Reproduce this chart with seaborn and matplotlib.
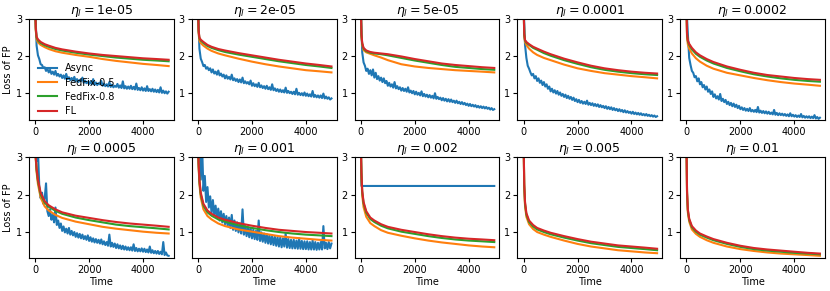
import numpy as np
import pandas as pd
import seaborn as sns
import matplotlib.pyplot as plt

# learning rates, one panel each
lrs = ['1e-05', '2e-05', '5e-05', '0.0001', '0.0002',
       '0.0005', '0.001', '0.002', '0.005', '0.01']
methods = ['Async', 'FedFix-0.5', 'FedFix-0.8', 'FL']
colors = {'Async': '#1f77b4', 'FedFix-0.5': '#ff7f0e',
          'FedFix-0.8': '#2ca02c', 'FL': '#d62728'}

# time points for the smooth curves and for the noisy Async curves
time_smooth = [0, 20, 50, 100, 200, 350, 500, 750, 1000, 1500,
               2000, 2500, 3000, 3500, 4000, 4500, 4950]
time_async = list(range(0, 4951, 50))

# Async loss, None = not shown
async_loss = {
    '1e-05': [3.3, 2.28, 2.02, 1.92, 1.78, 1.76, 1.68, 1.7, 1.6, 1.66,
              1.56, 1.63, 1.52, 1.58, 1.5, 1.6, 1.47, 1.52, 1.45, 1.5,
              1.41, 1.48, 1.39, 1.52, 1.38, 1.43, 1.35, 1.41, 1.34, 1.44,
              1.32, 1.38, 1.3, 1.36, 1.33, 1.42, 1.28, 1.34, 1.27, 1.31,
              1.25, 1.32, 1.24, 1.38, 1.23, 1.29, 1.22, 1.27, 1.24, 1.33,
              1.2, 1.26, 1.19, 1.24, 1.18, 1.3, 1.17, 1.23, 1.16, 1.2,
              1.17, 1.25, 1.15, 1.21, 1.14, 1.32, 1.13, 1.19, 1.12, 1.18,
              1.12, 1.2, 1.11, 1.17, 1.1, 1.26, 1.09, 1.14, 1.08, 1.16,
              1.07, 1.13, 1.06, 1.19, 1.06, 1.11, 1.05, 1.12, 1.04, 1.1,
              1.03, 1.09, 1.02, 1.16, 1.01, 1.07, 1.0, 1.05, 0.99, 1.04],
    '2e-05': [3.3, 2.2, 1.93, 1.84, 1.73, 1.76, 1.66, 1.7, 1.62, 1.67,
              1.56, 1.64, 1.53, 1.58, 1.5, 1.61, 1.48, 1.53, 1.45, 1.5,
              1.4, 1.48, 1.39, 1.44, 1.37, 1.5, 1.35, 1.4, 1.33, 1.38,
              1.3, 1.37, 1.29, 1.42, 1.27, 1.32, 1.26, 1.3, 1.24, 1.34,
              1.2, 1.27, 1.19, 1.24, 1.17, 1.28, 1.16, 1.21, 1.14, 1.19,
              1.12, 1.2, 1.11, 1.16, 1.09, 1.24, 1.08, 1.13, 1.06, 1.11,
              1.04, 1.1, 1.03, 1.08, 1.02, 1.15, 1.01, 1.06, 1.0, 1.04,
              0.98, 1.04, 0.97, 1.12, 0.96, 1.01, 0.95, 1.0, 0.94, 1.02,
              0.93, 0.99, 0.92, 0.97, 0.91, 1.06, 0.9, 0.95, 0.89, 0.94,
              0.88, 0.94, 0.87, 0.99, 0.86, 0.91, 0.85, 0.89, 0.83, 0.86],
    '5e-05': [3.3, 2.1, 1.83, 1.74, 1.6, 1.66, 1.52, 1.62, 1.48, 1.64,
              1.42, 1.55, 1.38, 1.46, 1.34, 1.42, 1.3, 1.4, 1.27, 1.33,
              1.2, 1.28, 1.18, 1.24, 1.15, 1.3, 1.13, 1.19, 1.11, 1.16,
              1.07, 1.14, 1.06, 1.12, 1.04, 1.16, 1.02, 1.07, 1.0, 1.06,
              0.97, 1.04, 0.96, 1.01, 0.94, 1.05, 0.92, 0.98, 0.91, 0.96,
              0.89, 0.95, 0.88, 0.93, 0.86, 1.0, 0.85, 0.9, 0.84, 0.88,
              0.81, 0.87, 0.8, 0.85, 0.78, 0.84, 0.77, 0.83, 0.76, 0.8,
              0.74, 0.8, 0.73, 0.77, 0.71, 0.76, 0.7, 0.74, 0.68, 0.72,
              0.66, 0.71, 0.65, 0.69, 0.64, 0.68, 0.62, 0.66, 0.61, 0.65,
              0.6, 0.64, 0.59, 0.63, 0.58, 0.61, 0.56, 0.6, 0.55, 0.57],
    '0.0001': [3.3, 2.3, 1.95, 1.74, 1.66, 1.56, 1.48, 1.52, 1.4, 1.46,
               1.33, 1.4, 1.28, 1.34, 1.22, 1.3, 1.18, 1.24, 1.12, 1.18,
               1.05, 1.12, 1.02, 1.08, 0.99, 1.06, 0.96, 1.02, 0.93, 0.98,
               0.9, 0.96, 0.87, 0.93, 0.85, 0.9, 0.82, 0.88, 0.79, 0.84,
               0.76, 0.82, 0.74, 0.79, 0.72, 0.77, 0.71, 0.8, 0.69, 0.74,
               0.68, 0.73, 0.66, 0.71, 0.65, 0.7, 0.63, 0.68, 0.62, 0.66,
               0.6, 0.65, 0.58, 0.63, 0.57, 0.62, 0.55, 0.6, 0.54, 0.58,
               0.52, 0.57, 0.51, 0.55, 0.49, 0.54, 0.48, 0.52, 0.47, 0.5,
               0.45, 0.5, 0.44, 0.48, 0.43, 0.47, 0.42, 0.46, 0.41, 0.44,
               0.4, 0.44, 0.39, 0.42, 0.38, 0.41, 0.37, 0.4, 0.36, 0.38],
    '0.0002': [3.3, 2.6, 1.95, 1.76, 1.6, 1.55, 1.43, 1.46, 1.32, 1.4,
               1.24, 1.3, 1.16, 1.22, 1.1, 1.18, 1.04, 1.1, 0.98, 1.05,
               0.9, 0.97, 0.86, 0.92, 0.83, 0.98, 0.79, 0.85, 0.76, 0.82,
               0.71, 0.77, 0.68, 0.74, 0.65, 0.72, 0.63, 0.69, 0.6, 0.66,
               0.57, 0.62, 0.55, 0.6, 0.53, 0.58, 0.52, 0.6, 0.51, 0.55,
               0.5, 0.55, 0.49, 0.63, 0.48, 0.53, 0.47, 0.52, 0.46, 0.51,
               0.45, 0.5, 0.44, 0.48, 0.43, 0.55, 0.42, 0.47, 0.41, 0.46,
               0.41, 0.45, 0.4, 0.44, 0.39, 0.43, 0.38, 0.46, 0.38, 0.42,
               0.37, 0.41, 0.36, 0.4, 0.36, 0.44, 0.35, 0.39, 0.34, 0.38,
               0.34, 0.38, 0.33, 0.37, 0.33, 0.41, 0.32, 0.36, 0.31, 0.34],
    '0.0005': [3.3, 2.9, 3.2, 2.2, 1.9, 2.05, 1.75, 1.9, 2.3, 1.55,
               1.42, 1.6, 1.32, 1.45, 1.25, 1.65, 1.18, 1.3, 1.1, 1.22,
               1.02, 1.14, 0.98, 1.08, 0.95, 1.1, 0.92, 1.02, 0.9, 0.99,
               0.86, 0.96, 0.84, 0.94, 0.82, 0.92, 0.8, 0.88, 0.78, 0.9,
               0.75, 0.85, 0.73, 0.82, 0.71, 0.8, 0.7, 0.78, 0.68, 0.79,
               0.66, 0.74, 0.64, 0.72, 0.62, 0.92, 0.6, 0.7, 0.59, 0.68,
               0.56, 0.66, 0.55, 0.63, 0.53, 0.62, 0.52, 0.6, 0.51, 0.58,
               0.5, 0.58, 0.49, 0.66, 0.48, 0.56, 0.47, 0.54, 0.47, 0.55,
               0.46, 0.54, 0.45, 0.52, 0.44, 0.6, 0.43, 0.5, 0.42, 0.48,
               0.41, 0.48, 0.4, 0.46, 0.39, 0.72, 0.37, 0.44, 0.36, 0.35],
    '0.001': [3.3, 3.4, 2.4, 3.3, 2.1, 2.5, 1.8, 2.2, 1.65, 1.95,
              1.5, 1.85, 1.45, 1.7, 1.38, 1.62, 1.3, 1.55, 1.25, 1.48,
              1.2, 1.42, 1.15, 1.38, 1.1, 1.45, 1.05, 1.3, 1.02, 1.25,
              0.98, 1.22, 0.95, 1.6, 0.92, 1.15, 0.88, 1.12, 0.85, 1.1,
              0.82, 1.05, 0.8, 1.02, 0.78, 1.3, 0.75, 0.98, 0.73, 0.95,
              0.7, 0.93, 0.68, 0.9, 0.66, 0.88, 0.64, 0.86, 0.62, 0.85,
              0.6, 0.84, 0.58, 0.82, 0.6, 0.95, 0.57, 0.8, 0.56, 0.78,
              0.55, 0.78, 0.55, 0.76, 0.54, 0.82, 0.54, 0.75, 0.53, 0.74,
              0.53, 0.74, 0.52, 0.72, 0.52, 0.76, 0.52, 0.72, 0.51, 0.7,
              0.52, 0.72, 0.52, 1.15, 0.55, 0.7, 0.53, 0.72, 0.55, 0.68],
    # this one is flat, on the smooth time grid
    '0.002': [3.3, 2.23, 2.23, 2.23, 2.23, 2.23, 2.23, 2.23, 2.23, 2.23,
              2.23, 2.23, 2.23, 2.23, 2.23, 2.23, 2.23],
    '0.005': None,
    '0.01': None,
}

fedfix05_loss = {
    '1e-05': [3.3, 2.68, 2.45, 2.37, 2.3, 2.24, 2.19, 2.13, 2.09, 2.03, 1.98, 1.92, 1.87, 1.83, 1.79, 1.76, 1.73],
    '2e-05': [3.3, 2.62, 2.42, 2.35, 2.28, 2.2, 2.14, 2.07, 2.02, 1.93, 1.85, 1.78, 1.72, 1.67, 1.62, 1.59, 1.56],
    '5e-05': [3.3, 2.55, 2.3, 2.16, 2.1, 2.06, 2.02, 1.96, 1.89, 1.78, 1.72, 1.68, 1.65, 1.62, 1.6, 1.58, 1.56],
    '0.0001': [3.3, 2.55, 2.38, 2.3, 2.2, 2.1, 2.03, 1.95, 1.89, 1.77, 1.67, 1.6, 1.54, 1.5, 1.46, 1.43, 1.4],
    '0.0002': [3.3, 2.5, 2.32, 2.2, 2.07, 1.94, 1.85, 1.74, 1.66, 1.55, 1.48, 1.41, 1.35, 1.3, 1.26, 1.23, 1.2],
    '0.0005': [3.3, 2.95, 2.6, 2.28, 1.92, 1.68, 1.57, 1.45, 1.37, 1.27, 1.2, 1.13, 1.08, 1.04, 1.0, 0.97, 0.95],
    '0.001': [3.3, 2.75, 2.28, 1.92, 1.6, 1.42, 1.33, 1.22, 1.15, 1.06, 1.0, 0.94, 0.88, 0.84, 0.81, 0.78, 0.76],
    '0.002': [3.3, 2.5, 1.98, 1.66, 1.4, 1.23, 1.15, 1.04, 0.97, 0.89, 0.82, 0.76, 0.71, 0.67, 0.63, 0.6, 0.58],
    '0.005': [3.3, 2.2, 1.7, 1.4, 1.2, 1.07, 0.99, 0.92, 0.86, 0.76, 0.67, 0.6, 0.55, 0.5, 0.47, 0.44, 0.42],
    '0.01': [3.3, 2.0, 1.52, 1.27, 1.06, 0.94, 0.86, 0.77, 0.7, 0.6, 0.53, 0.48, 0.44, 0.41, 0.39, 0.37, 0.35],
}

fedfix08_loss = {
    '1e-05': [3.3, 2.72, 2.5, 2.42, 2.35, 2.29, 2.25, 2.19, 2.15, 2.09, 2.04, 2.0, 1.96, 1.93, 1.9, 1.88, 1.86],
    '2e-05': [3.3, 2.68, 2.48, 2.42, 2.35, 2.27, 2.22, 2.16, 2.11, 2.04, 1.98, 1.92, 1.86, 1.81, 1.76, 1.72, 1.68],
    '5e-05': [3.3, 2.58, 2.33, 2.2, 2.13, 2.09, 2.07, 2.05, 2.02, 1.95, 1.88, 1.82, 1.76, 1.71, 1.68, 1.65, 1.63],
    '0.0001': [3.3, 2.58, 2.42, 2.36, 2.3, 2.22, 2.17, 2.08, 2.01, 1.89, 1.79, 1.7, 1.63, 1.58, 1.54, 1.51, 1.49],
    '0.0002': [3.3, 2.58, 2.4, 2.3, 2.18, 2.06, 1.98, 1.88, 1.8, 1.68, 1.59, 1.51, 1.45, 1.4, 1.36, 1.33, 1.31],
    '0.0005': [3.3, 2.98, 2.66, 2.36, 2.0, 1.78, 1.67, 1.56, 1.48, 1.38, 1.31, 1.25, 1.19, 1.15, 1.12, 1.09, 1.06],
    '0.001': [3.3, 2.8, 2.35, 2.0, 1.7, 1.52, 1.43, 1.33, 1.27, 1.17, 1.1, 1.04, 0.99, 0.95, 0.92, 0.9, 0.88],
    '0.002': [3.3, 2.58, 2.07, 1.76, 1.51, 1.34, 1.26, 1.16, 1.09, 1.0, 0.94, 0.88, 0.83, 0.79, 0.76, 0.74, 0.72],
    '0.005': [3.3, 2.25, 1.75, 1.46, 1.26, 1.14, 1.06, 0.99, 0.93, 0.84, 0.76, 0.69, 0.64, 0.59, 0.56, 0.53, 0.5],
    '0.01': [3.3, 2.05, 1.57, 1.32, 1.12, 1.0, 0.92, 0.84, 0.77, 0.67, 0.59, 0.53, 0.49, 0.46, 0.43, 0.41, 0.39],
}

fl_loss = {
    '1e-05': [3.3, 2.75, 2.52, 2.45, 2.38, 2.32, 2.28, 2.22, 2.18, 2.12, 2.07, 2.03, 2.0, 1.97, 1.94, 1.92, 1.9],
    '2e-05': [3.3, 2.7, 2.5, 2.44, 2.38, 2.3, 2.25, 2.19, 2.15, 2.08, 2.02, 1.96, 1.9, 1.85, 1.8, 1.76, 1.72],
    '5e-05': [3.3, 2.6, 2.35, 2.22, 2.15, 2.11, 2.09, 2.07, 2.05, 1.99, 1.92, 1.86, 1.8, 1.76, 1.73, 1.7, 1.68],
    '0.0001': [3.3, 2.6, 2.43, 2.38, 2.32, 2.25, 2.2, 2.12, 2.05, 1.93, 1.83, 1.74, 1.67, 1.62, 1.58, 1.55, 1.53],
    '0.0002': [3.3, 2.6, 2.42, 2.33, 2.22, 2.1, 2.02, 1.92, 1.84, 1.72, 1.63, 1.55, 1.49, 1.45, 1.41, 1.38, 1.36],
    '0.0005': [3.3, 3.0, 2.7, 2.4, 2.05, 1.82, 1.71, 1.6, 1.52, 1.43, 1.37, 1.31, 1.26, 1.22, 1.19, 1.16, 1.13],
    '0.001': [3.3, 2.85, 2.4, 2.05, 1.75, 1.57, 1.48, 1.38, 1.32, 1.23, 1.16, 1.1, 1.05, 1.02, 0.99, 0.97, 0.95],
    '0.002': [3.3, 2.6, 2.1, 1.8, 1.55, 1.38, 1.3, 1.2, 1.13, 1.05, 0.99, 0.93, 0.88, 0.84, 0.81, 0.79, 0.77],
    '0.005': [3.3, 2.3, 1.8, 1.5, 1.3, 1.18, 1.1, 1.03, 0.97, 0.88, 0.8, 0.73, 0.68, 0.63, 0.6, 0.57, 0.54],
    '0.01': [3.3, 2.1, 1.6, 1.35, 1.15, 1.03, 0.95, 0.87, 0.8, 0.7, 0.62, 0.56, 0.52, 0.49, 0.46, 0.43, 0.41],
}


def panel_frame(lr):
    parts = []
    a = async_loss[lr]
    if a is not None:
        t = time_async if len(a) == len(time_async) else time_smooth
        parts.append(pd.DataFrame({'Time': t, 'Loss': a, 'Method': 'Async'}))
    for name, d in [('FedFix-0.5', fedfix05_loss), ('FedFix-0.8', fedfix08_loss), ('FL', fl_loss)]:
        parts.append(pd.DataFrame({'Time': time_smooth, 'Loss': d[lr], 'Method': name}))
    return pd.concat(parts, ignore_index=True)


plt.rcParams['font.size'] = 7
fig, axes = plt.subplots(2, 5, figsize=(8.3, 2.91), dpi=100)
fig.subplots_adjust(left=0.035, right=0.994, top=0.935, bottom=0.112,
                    wspace=0.125, hspace=0.37)

for i, (ax, lr) in enumerate(zip(axes.flat, lrs)):
    df = panel_frame(lr)
    present = [m for m in methods if m in df['Method'].unique()]
    sns.lineplot(data=df, x='Time', y='Loss', hue='Method', hue_order=present,
                 palette=colors, estimator=None, lw=1.5, ax=ax, legend=(i == 0))
    ax.set_title(r'$\eta_l=$' + lr, fontsize=9, pad=3)
    ax.set_xlim(-230, 5140)
    ax.set_ylim(0.28, 3)
    ax.set_xticks([0, 2000, 4000])
    ax.set_yticks([1, 2, 3])
    ax.tick_params(labelsize=7, length=3, pad=2)
    ax.set_xlabel('Time' if i >= 5 else '', fontsize=7, labelpad=1)
    ax.set_ylabel('Loss of FP' if i % 5 == 0 else '', fontsize=7, labelpad=2)
    if i == 0:
        ax.legend(frameon=False, loc='lower left', fontsize=7,
                  bbox_to_anchor=(0, -0.05), handlelength=2, labelspacing=0.45)

fig.savefig('out.png', dpi=100)
